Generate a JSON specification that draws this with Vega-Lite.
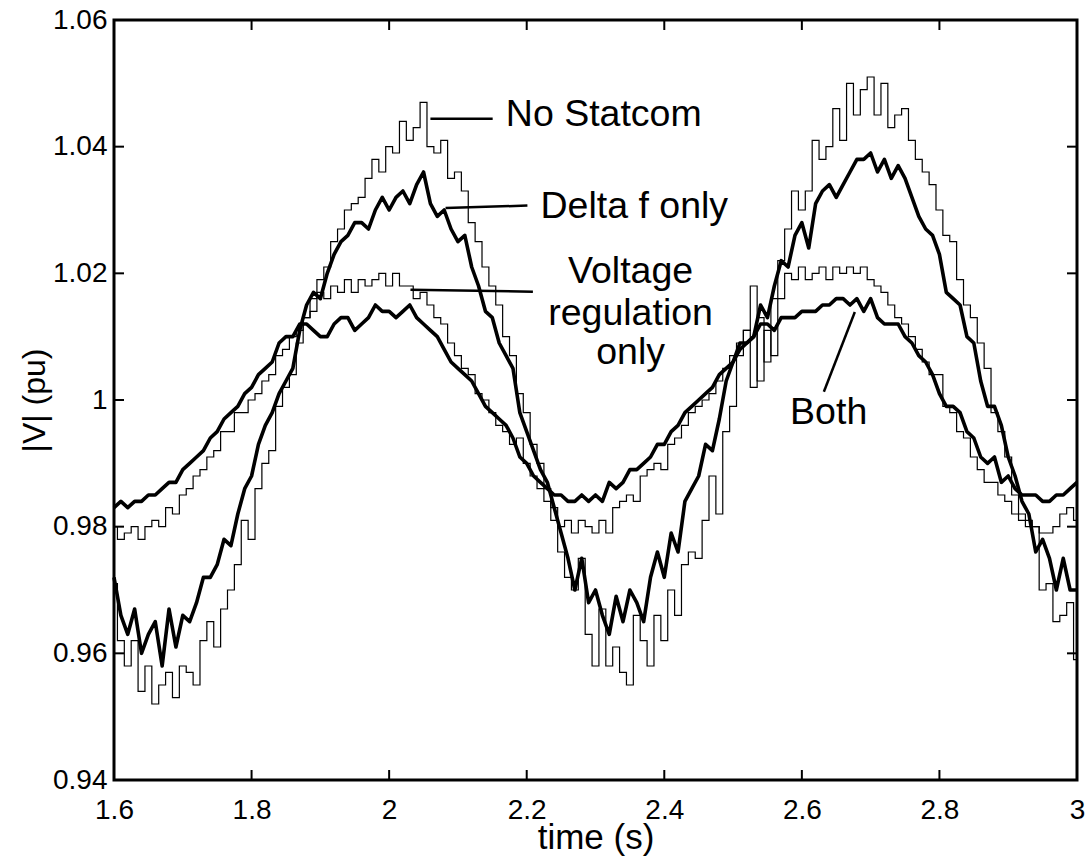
{
"$schema":"https://vega.github.io/schema/vega-lite/v6.json",
"width":963,"height":760,
"autosize":{"type":"none"},
"padding":{"left":114,"top":20,"right":10,"bottom":81},
"background":"white",
"config":{"view":{"stroke":"black","strokeWidth":3},"font":"Liberation Sans"},
"datasets":{
"xt":[{"t":1.6},{"t":1.8},{"t":2.0},{"t":2.2},{"t":2.4},{"t":2.6},{"t":2.8},{"t":3.0}],
"yt":[{"v":0.94},{"v":0.96},{"v":0.98},{"v":1.0},{"v":1.02},{"v":1.04},{"v":1.06}]
},
"data":{"values":[
{"s":"N","t":1.60,"v":0.971},{"s":"N","t":1.61,"v":0.962},{"s":"N","t":1.62,"v":0.958},{"s":"N","t":1.63,"v":0.962},{"s":"N","t":1.64,"v":0.954},{"s":"N","t":1.65,"v":0.958},{"s":"N","t":1.66,"v":0.952},{"s":"N","t":1.67,"v":0.955},{"s":"N","t":1.68,"v":0.957},{"s":"N","t":1.69,"v":0.953},
{"s":"N","t":1.70,"v":0.958},{"s":"N","t":1.71,"v":0.957},{"s":"N","t":1.72,"v":0.955},{"s":"N","t":1.73,"v":0.962},{"s":"N","t":1.74,"v":0.965},{"s":"N","t":1.75,"v":0.961},{"s":"N","t":1.76,"v":0.967},{"s":"N","t":1.77,"v":0.970},{"s":"N","t":1.78,"v":0.974},{"s":"N","t":1.79,"v":0.981},
{"s":"N","t":1.80,"v":0.978},{"s":"N","t":1.81,"v":0.986},{"s":"N","t":1.82,"v":0.990},{"s":"N","t":1.83,"v":0.992},{"s":"N","t":1.84,"v":0.999},{"s":"N","t":1.85,"v":1.002},{"s":"N","t":1.86,"v":1.004},{"s":"N","t":1.87,"v":1.009},{"s":"N","t":1.88,"v":1.013},{"s":"N","t":1.89,"v":1.016},
{"s":"N","t":1.90,"v":1.019},{"s":"N","t":1.91,"v":1.021},{"s":"N","t":1.92,"v":1.025},{"s":"N","t":1.93,"v":1.027},{"s":"N","t":1.94,"v":1.030},{"s":"N","t":1.95,"v":1.031},{"s":"N","t":1.96,"v":1.032},{"s":"N","t":1.97,"v":1.035},{"s":"N","t":1.98,"v":1.038},{"s":"N","t":1.99,"v":1.036},
{"s":"N","t":2.00,"v":1.040},{"s":"N","t":2.01,"v":1.039},{"s":"N","t":2.02,"v":1.044},{"s":"N","t":2.03,"v":1.041},{"s":"N","t":2.04,"v":1.043},{"s":"N","t":2.05,"v":1.047},{"s":"N","t":2.06,"v":1.040},{"s":"N","t":2.07,"v":1.039},{"s":"N","t":2.08,"v":1.041},{"s":"N","t":2.09,"v":1.035},
{"s":"N","t":2.10,"v":1.036},{"s":"N","t":2.11,"v":1.033},{"s":"N","t":2.12,"v":1.028},{"s":"N","t":2.13,"v":1.025},{"s":"N","t":2.14,"v":1.021},{"s":"N","t":2.15,"v":1.018},{"s":"N","t":2.16,"v":1.015},{"s":"N","t":2.17,"v":1.010},{"s":"N","t":2.18,"v":1.007},{"s":"N","t":2.19,"v":1.001},
{"s":"N","t":2.20,"v":0.998},{"s":"N","t":2.21,"v":0.993},{"s":"N","t":2.22,"v":0.990},{"s":"N","t":2.23,"v":0.986},{"s":"N","t":2.24,"v":0.981},{"s":"N","t":2.25,"v":0.976},{"s":"N","t":2.26,"v":0.972},{"s":"N","t":2.27,"v":0.970},{"s":"N","t":2.28,"v":0.975},{"s":"N","t":2.29,"v":0.963},
{"s":"N","t":2.30,"v":0.958},{"s":"N","t":2.31,"v":0.967},{"s":"N","t":2.32,"v":0.958},{"s":"N","t":2.33,"v":0.961},{"s":"N","t":2.34,"v":0.957},{"s":"N","t":2.35,"v":0.955},{"s":"N","t":2.36,"v":0.966},{"s":"N","t":2.37,"v":0.962},{"s":"N","t":2.38,"v":0.958},{"s":"N","t":2.39,"v":0.966},
{"s":"N","t":2.40,"v":0.962},{"s":"N","t":2.41,"v":0.970},{"s":"N","t":2.42,"v":0.966},{"s":"N","t":2.43,"v":0.974},{"s":"N","t":2.44,"v":0.976},{"s":"N","t":2.45,"v":0.975},{"s":"N","t":2.46,"v":0.981},{"s":"N","t":2.47,"v":0.988},{"s":"N","t":2.48,"v":0.982},{"s":"N","t":2.49,"v":0.995},
{"s":"N","t":2.50,"v":0.999},{"s":"N","t":2.51,"v":1.007},{"s":"N","t":2.52,"v":1.011},{"s":"N","t":2.53,"v":1.002},{"s":"N","t":2.54,"v":1.013},{"s":"N","t":2.55,"v":1.006},{"s":"N","t":2.56,"v":1.016},{"s":"N","t":2.57,"v":1.022},{"s":"N","t":2.58,"v":1.027},{"s":"N","t":2.59,"v":1.033},
{"s":"N","t":2.60,"v":1.030},{"s":"N","t":2.61,"v":1.033},{"s":"N","t":2.62,"v":1.041},{"s":"N","t":2.63,"v":1.038},{"s":"N","t":2.64,"v":1.040},{"s":"N","t":2.65,"v":1.046},{"s":"N","t":2.66,"v":1.041},{"s":"N","t":2.67,"v":1.050},{"s":"N","t":2.68,"v":1.045},{"s":"N","t":2.69,"v":1.049},
{"s":"N","t":2.70,"v":1.051},{"s":"N","t":2.71,"v":1.045},{"s":"N","t":2.72,"v":1.050},{"s":"N","t":2.73,"v":1.043},{"s":"N","t":2.74,"v":1.045},{"s":"N","t":2.75,"v":1.046},{"s":"N","t":2.76,"v":1.041},{"s":"N","t":2.77,"v":1.038},{"s":"N","t":2.78,"v":1.036},{"s":"N","t":2.79,"v":1.034},
{"s":"N","t":2.80,"v":1.030},{"s":"N","t":2.81,"v":1.026},{"s":"N","t":2.82,"v":1.025},{"s":"N","t":2.83,"v":1.019},{"s":"N","t":2.84,"v":1.015},{"s":"N","t":2.85,"v":1.013},{"s":"N","t":2.86,"v":1.009},{"s":"N","t":2.87,"v":1.005},{"s":"N","t":2.88,"v":0.998},{"s":"N","t":2.89,"v":0.995},
{"s":"N","t":2.90,"v":0.991},{"s":"N","t":2.91,"v":0.985},{"s":"N","t":2.92,"v":0.982},{"s":"N","t":2.93,"v":0.981},{"s":"N","t":2.94,"v":0.980},{"s":"N","t":2.95,"v":0.970},{"s":"N","t":2.96,"v":0.971},{"s":"N","t":2.97,"v":0.965},{"s":"N","t":2.98,"v":0.966},{"s":"N","t":2.99,"v":0.968},{"s":"N","t":3.00,"v":0.959},
{"s":"D","t":1.60,"v":0.972},{"s":"D","t":1.61,"v":0.966},{"s":"D","t":1.62,"v":0.963},{"s":"D","t":1.63,"v":0.967},{"s":"D","t":1.64,"v":0.960},{"s":"D","t":1.65,"v":0.963},{"s":"D","t":1.66,"v":0.965},{"s":"D","t":1.67,"v":0.958},{"s":"D","t":1.68,"v":0.967},{"s":"D","t":1.69,"v":0.961},
{"s":"D","t":1.70,"v":0.966},{"s":"D","t":1.71,"v":0.965},{"s":"D","t":1.72,"v":0.968},{"s":"D","t":1.73,"v":0.972},{"s":"D","t":1.74,"v":0.972},{"s":"D","t":1.75,"v":0.974},{"s":"D","t":1.76,"v":0.978},{"s":"D","t":1.77,"v":0.977},{"s":"D","t":1.78,"v":0.982},{"s":"D","t":1.79,"v":0.986},
{"s":"D","t":1.80,"v":0.988},{"s":"D","t":1.81,"v":0.993},{"s":"D","t":1.82,"v":0.996},{"s":"D","t":1.83,"v":0.998},{"s":"D","t":1.84,"v":1.001},{"s":"D","t":1.85,"v":1.003},{"s":"D","t":1.86,"v":1.005},{"s":"D","t":1.87,"v":1.011},{"s":"D","t":1.88,"v":1.015},{"s":"D","t":1.89,"v":1.017},
{"s":"D","t":1.90,"v":1.016},{"s":"D","t":1.91,"v":1.020},{"s":"D","t":1.92,"v":1.023},{"s":"D","t":1.93,"v":1.025},{"s":"D","t":1.94,"v":1.026},{"s":"D","t":1.95,"v":1.028},{"s":"D","t":1.96,"v":1.028},{"s":"D","t":1.97,"v":1.027},{"s":"D","t":1.98,"v":1.030},{"s":"D","t":1.99,"v":1.032},
{"s":"D","t":2.00,"v":1.030},{"s":"D","t":2.01,"v":1.032},{"s":"D","t":2.02,"v":1.033},{"s":"D","t":2.03,"v":1.031},{"s":"D","t":2.04,"v":1.034},{"s":"D","t":2.05,"v":1.036},{"s":"D","t":2.06,"v":1.031},{"s":"D","t":2.07,"v":1.029},{"s":"D","t":2.08,"v":1.030},{"s":"D","t":2.09,"v":1.027},
{"s":"D","t":2.10,"v":1.025},{"s":"D","t":2.11,"v":1.026},{"s":"D","t":2.12,"v":1.021},{"s":"D","t":2.13,"v":1.018},{"s":"D","t":2.14,"v":1.014},{"s":"D","t":2.15,"v":1.013},{"s":"D","t":2.16,"v":1.009},{"s":"D","t":2.17,"v":1.007},{"s":"D","t":2.18,"v":1.005},{"s":"D","t":2.19,"v":0.998},
{"s":"D","t":2.20,"v":0.995},{"s":"D","t":2.21,"v":0.992},{"s":"D","t":2.22,"v":0.989},{"s":"D","t":2.23,"v":0.987},{"s":"D","t":2.24,"v":0.983},{"s":"D","t":2.25,"v":0.979},{"s":"D","t":2.26,"v":0.975},{"s":"D","t":2.27,"v":0.970},{"s":"D","t":2.28,"v":0.975},{"s":"D","t":2.29,"v":0.968},
{"s":"D","t":2.30,"v":0.970},{"s":"D","t":2.31,"v":0.966},{"s":"D","t":2.32,"v":0.963},{"s":"D","t":2.33,"v":0.969},{"s":"D","t":2.34,"v":0.965},{"s":"D","t":2.35,"v":0.970},{"s":"D","t":2.36,"v":0.968},{"s":"D","t":2.37,"v":0.965},{"s":"D","t":2.38,"v":0.972},{"s":"D","t":2.39,"v":0.976},
{"s":"D","t":2.40,"v":0.972},{"s":"D","t":2.41,"v":0.979},{"s":"D","t":2.42,"v":0.976},{"s":"D","t":2.43,"v":0.984},{"s":"D","t":2.44,"v":0.986},{"s":"D","t":2.45,"v":0.988},{"s":"D","t":2.46,"v":0.993},{"s":"D","t":2.47,"v":0.992},{"s":"D","t":2.48,"v":0.997},{"s":"D","t":2.49,"v":1.003},
{"s":"D","t":2.50,"v":1.006},{"s":"D","t":2.51,"v":1.009},{"s":"D","t":2.52,"v":1.009},{"s":"D","t":2.53,"v":1.010},{"s":"D","t":2.54,"v":1.015},{"s":"D","t":2.55,"v":1.013},{"s":"D","t":2.56,"v":1.018},{"s":"D","t":2.57,"v":1.022},{"s":"D","t":2.58,"v":1.021},{"s":"D","t":2.59,"v":1.026},
{"s":"D","t":2.60,"v":1.028},{"s":"D","t":2.61,"v":1.024},{"s":"D","t":2.62,"v":1.031},{"s":"D","t":2.63,"v":1.033},{"s":"D","t":2.64,"v":1.034},{"s":"D","t":2.65,"v":1.032},{"s":"D","t":2.66,"v":1.034},{"s":"D","t":2.67,"v":1.036},{"s":"D","t":2.68,"v":1.038},{"s":"D","t":2.69,"v":1.038},
{"s":"D","t":2.70,"v":1.039},{"s":"D","t":2.71,"v":1.036},{"s":"D","t":2.72,"v":1.038},{"s":"D","t":2.73,"v":1.035},{"s":"D","t":2.74,"v":1.037},{"s":"D","t":2.75,"v":1.035},{"s":"D","t":2.76,"v":1.032},{"s":"D","t":2.77,"v":1.029},{"s":"D","t":2.78,"v":1.027},{"s":"D","t":2.79,"v":1.026},
{"s":"D","t":2.80,"v":1.023},{"s":"D","t":2.81,"v":1.017},{"s":"D","t":2.82,"v":1.016},{"s":"D","t":2.83,"v":1.015},{"s":"D","t":2.84,"v":1.010},{"s":"D","t":2.85,"v":1.009},{"s":"D","t":2.86,"v":1.003},{"s":"D","t":2.87,"v":0.999},{"s":"D","t":2.88,"v":0.999},{"s":"D","t":2.89,"v":0.996},
{"s":"D","t":2.90,"v":0.991},{"s":"D","t":2.91,"v":0.988},{"s":"D","t":2.92,"v":0.984},{"s":"D","t":2.93,"v":0.982},{"s":"D","t":2.94,"v":0.976},{"s":"D","t":2.95,"v":0.978},{"s":"D","t":2.96,"v":0.975},{"s":"D","t":2.97,"v":0.970},{"s":"D","t":2.98,"v":0.975},{"s":"D","t":2.99,"v":0.970},{"s":"D","t":3.00,"v":0.970},
{"s":"R","t":1.60,"v":0.980},{"s":"R","t":1.61,"v":0.978},{"s":"R","t":1.62,"v":0.979},{"s":"R","t":1.63,"v":0.980},{"s":"R","t":1.64,"v":0.978},{"s":"R","t":1.65,"v":0.980},{"s":"R","t":1.66,"v":0.981},{"s":"R","t":1.67,"v":0.980},{"s":"R","t":1.68,"v":0.983},{"s":"R","t":1.69,"v":0.982},
{"s":"R","t":1.70,"v":0.985},{"s":"R","t":1.71,"v":0.986},{"s":"R","t":1.72,"v":0.988},{"s":"R","t":1.73,"v":0.989},{"s":"R","t":1.74,"v":0.991},{"s":"R","t":1.75,"v":0.992},{"s":"R","t":1.76,"v":0.995},{"s":"R","t":1.77,"v":0.995},{"s":"R","t":1.78,"v":0.998},{"s":"R","t":1.79,"v":0.998},
{"s":"R","t":1.80,"v":1.000},{"s":"R","t":1.81,"v":1.001},{"s":"R","t":1.82,"v":1.003},{"s":"R","t":1.83,"v":1.004},{"s":"R","t":1.84,"v":1.007},{"s":"R","t":1.85,"v":1.008},{"s":"R","t":1.86,"v":1.010},{"s":"R","t":1.87,"v":1.011},{"s":"R","t":1.88,"v":1.013},{"s":"R","t":1.89,"v":1.014},
{"s":"R","t":1.90,"v":1.017},{"s":"R","t":1.91,"v":1.016},{"s":"R","t":1.92,"v":1.018},{"s":"R","t":1.93,"v":1.017},{"s":"R","t":1.94,"v":1.019},{"s":"R","t":1.95,"v":1.017},{"s":"R","t":1.96,"v":1.019},{"s":"R","t":1.97,"v":1.018},{"s":"R","t":1.98,"v":1.019},{"s":"R","t":1.99,"v":1.020},
{"s":"R","t":2.00,"v":1.018},{"s":"R","t":2.01,"v":1.020},{"s":"R","t":2.02,"v":1.018},{"s":"R","t":2.03,"v":1.018},{"s":"R","t":2.04,"v":1.016},{"s":"R","t":2.05,"v":1.017},{"s":"R","t":2.06,"v":1.015},{"s":"R","t":2.07,"v":1.013},{"s":"R","t":2.08,"v":1.012},{"s":"R","t":2.09,"v":1.009},
{"s":"R","t":2.10,"v":1.007},{"s":"R","t":2.11,"v":1.005},{"s":"R","t":2.12,"v":1.004},{"s":"R","t":2.13,"v":1.001},{"s":"R","t":2.14,"v":1.000},{"s":"R","t":2.15,"v":0.998},{"s":"R","t":2.16,"v":0.996},{"s":"R","t":2.17,"v":0.995},{"s":"R","t":2.18,"v":0.993},{"s":"R","t":2.19,"v":0.994},
{"s":"R","t":2.20,"v":0.990},{"s":"R","t":2.21,"v":0.988},{"s":"R","t":2.22,"v":0.986},{"s":"R","t":2.23,"v":0.984},{"s":"R","t":2.24,"v":0.983},{"s":"R","t":2.25,"v":0.980},{"s":"R","t":2.26,"v":0.981},{"s":"R","t":2.27,"v":0.979},{"s":"R","t":2.28,"v":0.981},{"s":"R","t":2.29,"v":0.980},
{"s":"R","t":2.30,"v":0.979},{"s":"R","t":2.31,"v":0.981},{"s":"R","t":2.32,"v":0.979},{"s":"R","t":2.33,"v":0.983},{"s":"R","t":2.34,"v":0.984},{"s":"R","t":2.35,"v":0.985},{"s":"R","t":2.36,"v":0.984},{"s":"R","t":2.37,"v":0.988},{"s":"R","t":2.38,"v":0.989},{"s":"R","t":2.39,"v":0.990},
{"s":"R","t":2.40,"v":0.989},{"s":"R","t":2.41,"v":0.993},{"s":"R","t":2.42,"v":0.994},{"s":"R","t":2.43,"v":0.996},{"s":"R","t":2.44,"v":0.998},{"s":"R","t":2.45,"v":0.999},{"s":"R","t":2.46,"v":1.000},{"s":"R","t":2.47,"v":1.001},{"s":"R","t":2.48,"v":1.003},{"s":"R","t":2.49,"v":1.005},
{"s":"R","t":2.50,"v":1.007},{"s":"R","t":2.51,"v":1.009},{"s":"R","t":2.52,"v":1.011},{"s":"R","t":2.53,"v":1.018},{"s":"R","t":2.54,"v":1.003},{"s":"R","t":2.55,"v":1.011},{"s":"R","t":2.56,"v":1.007},{"s":"R","t":2.57,"v":1.016},{"s":"R","t":2.58,"v":1.020},{"s":"R","t":2.59,"v":1.019},
{"s":"R","t":2.60,"v":1.021},{"s":"R","t":2.61,"v":1.019},{"s":"R","t":2.62,"v":1.020},{"s":"R","t":2.63,"v":1.021},{"s":"R","t":2.64,"v":1.019},{"s":"R","t":2.65,"v":1.021},{"s":"R","t":2.66,"v":1.020},{"s":"R","t":2.67,"v":1.021},{"s":"R","t":2.68,"v":1.020},{"s":"R","t":2.69,"v":1.021},
{"s":"R","t":2.70,"v":1.019},{"s":"R","t":2.71,"v":1.018},{"s":"R","t":2.72,"v":1.017},{"s":"R","t":2.73,"v":1.015},{"s":"R","t":2.74,"v":1.013},{"s":"R","t":2.75,"v":1.012},{"s":"R","t":2.76,"v":1.010},{"s":"R","t":2.77,"v":1.008},{"s":"R","t":2.78,"v":1.006},{"s":"R","t":2.79,"v":1.004},
{"s":"R","t":2.80,"v":1.004},{"s":"R","t":2.81,"v":0.999},{"s":"R","t":2.82,"v":0.998},{"s":"R","t":2.83,"v":0.995},{"s":"R","t":2.84,"v":0.994},{"s":"R","t":2.85,"v":0.991},{"s":"R","t":2.86,"v":0.989},{"s":"R","t":2.87,"v":0.987},{"s":"R","t":2.88,"v":0.987},{"s":"R","t":2.89,"v":0.985},
{"s":"R","t":2.90,"v":0.984},{"s":"R","t":2.91,"v":0.982},{"s":"R","t":2.92,"v":0.981},{"s":"R","t":2.93,"v":0.980},{"s":"R","t":2.94,"v":0.980},{"s":"R","t":2.95,"v":0.979},{"s":"R","t":2.96,"v":0.979},{"s":"R","t":2.97,"v":0.980},{"s":"R","t":2.98,"v":0.982},{"s":"R","t":2.99,"v":0.983},{"s":"R","t":3.00,"v":0.981},
{"s":"B","t":1.60,"v":0.983},{"s":"B","t":1.61,"v":0.984},{"s":"B","t":1.62,"v":0.983},{"s":"B","t":1.63,"v":0.984},{"s":"B","t":1.64,"v":0.984},{"s":"B","t":1.65,"v":0.985},{"s":"B","t":1.66,"v":0.985},{"s":"B","t":1.67,"v":0.986},{"s":"B","t":1.68,"v":0.987},{"s":"B","t":1.69,"v":0.987},
{"s":"B","t":1.70,"v":0.989},{"s":"B","t":1.71,"v":0.990},{"s":"B","t":1.72,"v":0.991},{"s":"B","t":1.73,"v":0.992},{"s":"B","t":1.74,"v":0.994},{"s":"B","t":1.75,"v":0.995},{"s":"B","t":1.76,"v":0.997},{"s":"B","t":1.77,"v":0.998},{"s":"B","t":1.78,"v":0.999},{"s":"B","t":1.79,"v":1.001},
{"s":"B","t":1.80,"v":1.002},{"s":"B","t":1.81,"v":1.004},{"s":"B","t":1.82,"v":1.005},{"s":"B","t":1.83,"v":1.006},{"s":"B","t":1.84,"v":1.009},{"s":"B","t":1.85,"v":1.010},{"s":"B","t":1.86,"v":1.010},{"s":"B","t":1.87,"v":1.012},{"s":"B","t":1.88,"v":1.012},{"s":"B","t":1.89,"v":1.011},
{"s":"B","t":1.90,"v":1.010},{"s":"B","t":1.91,"v":1.010},{"s":"B","t":1.92,"v":1.012},{"s":"B","t":1.93,"v":1.013},{"s":"B","t":1.94,"v":1.013},{"s":"B","t":1.95,"v":1.011},{"s":"B","t":1.96,"v":1.012},{"s":"B","t":1.97,"v":1.013},{"s":"B","t":1.98,"v":1.015},{"s":"B","t":1.99,"v":1.014},
{"s":"B","t":2.00,"v":1.014},{"s":"B","t":2.01,"v":1.013},{"s":"B","t":2.02,"v":1.014},{"s":"B","t":2.03,"v":1.015},{"s":"B","t":2.04,"v":1.013},{"s":"B","t":2.05,"v":1.012},{"s":"B","t":2.06,"v":1.011},{"s":"B","t":2.07,"v":1.010},{"s":"B","t":2.08,"v":1.008},{"s":"B","t":2.09,"v":1.006},
{"s":"B","t":2.10,"v":1.005},{"s":"B","t":2.11,"v":1.004},{"s":"B","t":2.12,"v":1.003},{"s":"B","t":2.13,"v":1.001},{"s":"B","t":2.14,"v":0.999},{"s":"B","t":2.15,"v":0.998},{"s":"B","t":2.16,"v":0.997},{"s":"B","t":2.17,"v":0.996},{"s":"B","t":2.18,"v":0.994},{"s":"B","t":2.19,"v":0.991},
{"s":"B","t":2.20,"v":0.990},{"s":"B","t":2.21,"v":0.988},{"s":"B","t":2.22,"v":0.987},{"s":"B","t":2.23,"v":0.986},{"s":"B","t":2.24,"v":0.985},{"s":"B","t":2.25,"v":0.985},{"s":"B","t":2.26,"v":0.984},{"s":"B","t":2.27,"v":0.984},{"s":"B","t":2.28,"v":0.985},{"s":"B","t":2.29,"v":0.984},
{"s":"B","t":2.30,"v":0.985},{"s":"B","t":2.31,"v":0.984},{"s":"B","t":2.32,"v":0.987},{"s":"B","t":2.33,"v":0.986},{"s":"B","t":2.34,"v":0.987},{"s":"B","t":2.35,"v":0.989},{"s":"B","t":2.36,"v":0.989},{"s":"B","t":2.37,"v":0.990},{"s":"B","t":2.38,"v":0.991},{"s":"B","t":2.39,"v":0.993},
{"s":"B","t":2.40,"v":0.993},{"s":"B","t":2.41,"v":0.995},{"s":"B","t":2.42,"v":0.996},{"s":"B","t":2.43,"v":0.998},{"s":"B","t":2.44,"v":0.999},{"s":"B","t":2.45,"v":1.000},{"s":"B","t":2.46,"v":1.001},{"s":"B","t":2.47,"v":1.002},{"s":"B","t":2.48,"v":1.004},{"s":"B","t":2.49,"v":1.005},
{"s":"B","t":2.50,"v":1.006},{"s":"B","t":2.51,"v":1.008},{"s":"B","t":2.52,"v":1.009},{"s":"B","t":2.53,"v":1.010},{"s":"B","t":2.54,"v":1.012},{"s":"B","t":2.55,"v":1.012},{"s":"B","t":2.56,"v":1.011},{"s":"B","t":2.57,"v":1.013},{"s":"B","t":2.58,"v":1.013},{"s":"B","t":2.59,"v":1.013},
{"s":"B","t":2.60,"v":1.014},{"s":"B","t":2.61,"v":1.014},{"s":"B","t":2.62,"v":1.014},{"s":"B","t":2.63,"v":1.015},{"s":"B","t":2.64,"v":1.015},{"s":"B","t":2.65,"v":1.016},{"s":"B","t":2.66,"v":1.016},{"s":"B","t":2.67,"v":1.015},{"s":"B","t":2.68,"v":1.016},{"s":"B","t":2.69,"v":1.014},
{"s":"B","t":2.70,"v":1.016},{"s":"B","t":2.71,"v":1.013},{"s":"B","t":2.72,"v":1.012},{"s":"B","t":2.73,"v":1.012},{"s":"B","t":2.74,"v":1.012},{"s":"B","t":2.75,"v":1.010},{"s":"B","t":2.76,"v":1.009},{"s":"B","t":2.77,"v":1.007},{"s":"B","t":2.78,"v":1.006},{"s":"B","t":2.79,"v":1.004},
{"s":"B","t":2.80,"v":1.001},{"s":"B","t":2.81,"v":0.999},{"s":"B","t":2.82,"v":0.999},{"s":"B","t":2.83,"v":0.998},{"s":"B","t":2.84,"v":0.995},{"s":"B","t":2.85,"v":0.994},{"s":"B","t":2.86,"v":0.991},{"s":"B","t":2.87,"v":0.990},{"s":"B","t":2.88,"v":0.991},{"s":"B","t":2.89,"v":0.987},
{"s":"B","t":2.90,"v":0.988},{"s":"B","t":2.91,"v":0.986},{"s":"B","t":2.92,"v":0.985},{"s":"B","t":2.93,"v":0.985},{"s":"B","t":2.94,"v":0.985},{"s":"B","t":2.95,"v":0.984},{"s":"B","t":2.96,"v":0.984},{"s":"B","t":2.97,"v":0.985},{"s":"B","t":2.98,"v":0.985},{"s":"B","t":2.99,"v":0.986},{"s":"B","t":3.00,"v":0.987}
]},
"layer":[
{
"transform":[{"filter":"datum.s=='N' || datum.s=='R'"}],
"mark":{"type":"line","interpolate":"step","stroke":"black","strokeWidth":1.2},
"encoding":{
"x":{"field":"t","type":"quantitative","scale":{"domain":[1.6,3],"nice":false,"zero":false},
"axis":{"orient":"bottom","ticks":false,"values":[1.6,1.8,2,2.2,2.4,2.6,2.8,3],"labelExpr":"format(datum.value,'~g')","domain":false,"grid":false,"labelFont":"Liberation Sans","labelFontSize":28,"labelColor":"black","labelPadding":16,"labelFlush":false,"labelOverlap":false,"title":"time (s)","titleFont":"Liberation Sans","titleFontSize":35,"titleFontWeight":"normal","titleColor":"black","titleY":68,"titleBaseline":"alphabetic"}},
"y":{"field":"v","type":"quantitative","scale":{"domain":[0.94,1.06],"nice":false,"zero":false},
"axis":{"orient":"left","ticks":false,"values":[0.94,0.96,0.98,1,1.02,1.04,1.06],"labelExpr":"format(datum.value,'~g')","domain":false,"grid":false,"labelFont":"Liberation Sans","labelFontSize":28,"labelColor":"black","labelPadding":7,"labelFlush":false,"labelOverlap":false,"title":"|V| (pu)","titleFont":"Liberation Sans","titleFontSize":32,"titleFontWeight":"normal","titleColor":"black","titleX":-70,"titleY":380,"titleBaseline":"alphabetic"}},
"detail":{"field":"s"}
}
},
{
"transform":[{"filter":"datum.s=='D' || datum.s=='B'"}],
"mark":{"type":"line","stroke":"black","strokeWidth":3.6,"strokeJoin":"round"},
"encoding":{
"x":{"field":"t","type":"quantitative","scale":{"domain":[1.6,3],"nice":false,"zero":false},"axis":null},
"y":{"field":"v","type":"quantitative","scale":{"domain":[0.94,1.06],"nice":false,"zero":false},"axis":null},
"detail":{"field":"s"}
}
},
{
"data":{"values":[
{"t":2.060,"v":1.0444,"t2":2.1505,"v2":1.0444},
{"t":2.082,"v":1.0303,"t2":2.201,"v2":1.0307},
{"t":2.031,"v":1.0174,"t2":2.209,"v2":1.0171},
{"t":2.632,"v":1.0013,"t2":2.677,"v2":1.0139}
]},
"mark":{"type":"rule","stroke":"black","strokeWidth":2.5},
"encoding":{
"x":{"field":"t","type":"quantitative","axis":null},
"y":{"field":"v","type":"quantitative","axis":null},
"x2":{"field":"t2"},
"y2":{"field":"v2"}
}
},
{
"data":{"values":[
{"label":"No Statcom","t":2.312,"v":1.0433},
{"label":"Delta f only","t":2.3564,"v":1.0287},
{"label":"Voltage","t":2.351,"v":1.0185},
{"label":"regulation","t":2.351,"v":1.0118},
{"label":"only","t":2.351,"v":1.0057},
{"label":"Both","t":2.639,"v":0.9962}
]},
"mark":{"type":"text","align":"center","baseline":"alphabetic","font":"Liberation Sans","fontSize":37.5,"color":"black"},
"encoding":{
"x":{"field":"t","type":"quantitative","axis":null},
"y":{"field":"v","type":"quantitative","axis":null},
"text":{"field":"label"}
}
},
{
"data":{"name":"xt"},
"mark":{"type":"tick","orient":"vertical","size":20,"thickness":2,"color":"black","opacity":1,"clip":true},
"encoding":{
"x":{"field":"t","type":"quantitative","axis":null},
"y":{"datum":0.94,"type":"quantitative","axis":null}
}
},
{
"data":{"name":"xt"},
"mark":{"type":"tick","orient":"vertical","size":20,"thickness":2,"color":"black","opacity":1,"clip":true},
"encoding":{
"x":{"field":"t","type":"quantitative","axis":null},
"y":{"datum":1.06,"type":"quantitative","axis":null}
}
},
{
"data":{"name":"yt"},
"mark":{"type":"tick","orient":"horizontal","size":20,"thickness":2,"color":"black","opacity":1,"clip":true},
"encoding":{
"y":{"field":"v","type":"quantitative","axis":null},
"x":{"datum":1.6,"type":"quantitative","axis":null}
}
},
{
"data":{"name":"yt"},
"mark":{"type":"tick","orient":"horizontal","size":20,"thickness":2,"color":"black","opacity":1,"clip":true},
"encoding":{
"y":{"field":"v","type":"quantitative","axis":null},
"x":{"datum":3.0,"type":"quantitative","axis":null}
}
}
],
"resolve":{"axis":{"x":"independent","y":"independent"}}
}
